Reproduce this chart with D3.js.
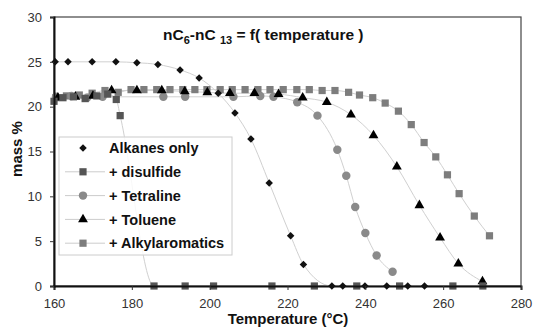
<!DOCTYPE html>
<html>
<head>
<meta charset="utf-8">
<script src="https://cdn.jsdelivr.net/npm/d3@7/dist/d3.min.js"></script>
<style>
  body { margin: 0; background: #fff; }
  svg { display: block; font-family: Arial, "Liberation Sans", sans-serif; }
</style>
</head>
<body>
<div id="chart"></div>
<script>
// ---- data (temperature °C, mass %) ----
const alkanesT = [160.3, 163.6, 169.8, 175.9, 181.3, 186.7, 192.4, 197.3, 202.2, 206.5, 210.6, 215.3, 220.8, 224.1, 231.4, 234.2, 239.9, 245.5, 250.9, 255.2];
const alkanesM = [25.0, 25.0, 25.0, 25.0, 24.9, 24.7, 24.1, 23.2, 21.5, 19.3, 16.4, 11.5, 5.6, 2.4, 0, 0, 0, 0, 0, 0];

const disulfideT = [160.0, 162.3, 165.0, 168.0, 171.0, 173.8, 176.0, 177.0, 185.7, 193.7, 201.0, 216.0, 226.9, 237.8, 248.8, 262.5, 270.2];
const disulfideM = [20.6, 21.0, 21.1, 20.9, 21.2, 21.4, 20.8, 19.0, 0, 0, 0, 0, 0, 0, 0, 0, 0];

const tetralineT = [160.5, 164.5, 168.5, 172.5, 188.1, 193.7, 206.1, 213.0, 216.4, 222.5, 227.7, 232.8, 235.1, 237.4, 240.0, 242.9, 247.0];
const tetralineM = [21.1, 21.2, 21.0, 21.1, 21.1, 21.1, 21.1, 21.2, 21.1, 20.5, 19.0, 15.2, 12.3, 8.8, 5.9, 3.4, 1.6];

const tolueneT = [161.0, 165.5, 170.0, 174.8, 181.3, 187.7, 193.6, 199.4, 205.2, 211.5, 217.7, 223.9, 230.1, 236.3, 242.1, 248.1, 253.9, 259.2, 263.9, 270.1];
const tolueneM = [21.0, 21.1, 21.2, 21.8, 21.8, 21.8, 21.7, 21.6, 21.5, 21.5, 21.4, 21.0, 20.5, 19.1, 16.8, 13.3, 9.0, 5.4, 2.5, 0.5];

const alkylT = [160.5, 163.2, 166.5, 169.8, 173.1, 176.5, 179.8, 183.1, 186.4, 189.8, 193.1, 196.2, 199.3, 202.7, 205.8, 209.1, 212.4, 215.5, 218.9, 222.4, 225.6, 228.9, 232.2, 235.7, 238.5, 241.9, 245.1, 248.5, 251.8, 255.1, 258.1, 261.1, 264.1, 268.0, 271.9];
const alkylM = [21.0, 21.2, 21.3, 21.5, 21.8, 21.6, 21.9, 21.9, 21.9, 21.9, 21.9, 21.9, 21.9, 21.9, 21.9, 21.9, 21.9, 21.9, 21.9, 21.9, 21.9, 21.8, 21.8, 21.6, 21.3, 21.0, 20.4, 19.5, 18.0, 16.0, 14.4, 12.4, 10.3, 7.8, 5.6];

const seriesNames = ["Alkanes only", "+ disulfide", "+ Tetraline", "+ Toluene", "+ Alkylaromatics"];
const xTicks = [160, 180, 200, 220, 240, 260, 280];
const yTicks = [0, 5, 10, 15, 20, 25, 30];

const W = 533, H = 335;
const plot = { left: 54, right: 521, top: 17, bottom: 286 };

let x = d3.scaleLinear().domain([160, 280]).range([plot.left, plot.right]);
let y = d3.scaleLinear().domain([0, 30]).range([plot.bottom, plot.top]);

let svg = d3.select("#chart").append("svg")
  .attr("width", W)
  .attr("height", H);

svg.append("rect").attr("width", W).attr("height", H).attr("fill", "#fff");

// frame (top/right thin)
svg.append("rect")
  .attr("x", plot.left).attr("y", plot.top)
  .attr("width", plot.right - plot.left).attr("height", plot.bottom - plot.top)
  .attr("fill", "none").attr("stroke", "#444").attr("stroke-width", 1.2);

const zip = (ts, ms) => ts.map((t, i) => ({ t: t, m: ms[i] }));

let series = [
  { name: seriesNames[0], data: zip(alkanesT, alkanesM), shape: "diamond", color: "#111", size: 28 },
  { name: seriesNames[1], data: zip(disulfideT, disulfideM), shape: "square", color: "#555", size: 52 },
  { name: seriesNames[2], data: zip(tetralineT, tetralineM), shape: "circle", color: "#8a8a8a", size: 56 },
  { name: seriesNames[3], data: zip(tolueneT, tolueneM), shape: "triangle", color: "#000", size: 42 },
  { name: seriesNames[4], data: zip(alkylT, alkylM), shape: "square", color: "#7d7d7d", size: 52 }
];

const symbolOf = (s) => {
  if (s.shape === "circle") return d3.symbol(d3.symbolCircle, s.size)();
  if (s.shape === "triangle") return d3.symbol(d3.symbolTriangle, s.size)();
  return d3.symbol(d3.symbolSquare, s.size)();
};

// light trend lines
let line = d3.line()
  .x(d => x(d.t))
  .y(d => y(d.m))
  .curve(d3.curveMonotoneX);

let gLines = svg.append("g").attr("fill", "none").attr("stroke", "#d0d0d0").attr("stroke-width", 1);
series.forEach(s => {
  gLines.append("path").attr("d", line(s.data));
});

// markers (draw order: last series at back)
let gMarks = svg.append("g");
[4, 2, 3, 1, 0].forEach(k => {
  let s = series[k];
  gMarks.append("g").selectAll("path")
    .data(s.data)
    .enter().append("path")
    .attr("d", symbolOf(s))
    .attr("transform", d => `translate(${x(d.t)},${y(d.m)})` + (s.shape === "diamond" ? " rotate(45)" : ""))
    .attr("fill", s.color);
});

// axes: thick left and bottom
let xAxis = d3.axisBottom(x).tickValues(xTicks).tickSize(4).tickPadding(6);
let yAxis = d3.axisLeft(y).tickValues(yTicks).tickSize(4).tickPadding(8);

let gx = svg.append("g").attr("transform", `translate(0,${plot.bottom})`).call(xAxis);
let gy = svg.append("g").attr("transform", `translate(${plot.left},0)`).call(yAxis);

[gx, gy].forEach(g => {
  g.select(".domain").attr("stroke", "#111").attr("stroke-width", 2);
  g.selectAll(".tick line").attr("stroke", "#333");
  g.selectAll("text").attr("fill", "#333").style("font-size", "13px")
    .style("font-family", "Arial, 'Liberation Sans', sans-serif");
});
gx.selectAll("text").attr("dy", "0.9em");

// legend
let legend = svg.append("g").attr("transform", "translate(59,137)");
legend.append("rect")
  .attr("width", 173).attr("height", 118)
  .attr("fill", "#fff").attr("fill-opacity", 0.85)
  .attr("stroke", "#ccc").attr("stroke-width", 1);

series.forEach((s, i) => {
  let row = legend.append("g").attr("transform", `translate(0,${11 + i * 23.8})`);
  if (i > 0) {
    row.append("line").attr("x1", 6).attr("x2", 46).attr("y1", 0).attr("y2", 0)
      .attr("stroke", "#ccc").attr("stroke-width", 1);
  }
  row.append("path")
    .attr("d", symbolOf(s))
    .attr("transform", "translate(24,0)" + (s.shape === "diamond" ? " rotate(45)" : ""))
    .attr("fill", s.color);
  row.append("text")
    .attr("x", 50).attr("y", 0).attr("dy", "0.36em")
    .style("font-size", "14.5px").style("font-weight", "bold").attr("fill", "#111")
    .text(s.name);
});

// title
let title = svg.append("text")
  .attr("x", 163).attr("y", 40)
  .style("font-size", "15.5px").style("font-weight", "bold").attr("fill", "#111");
title.append("tspan").text("nC");
title.append("tspan").attr("dy", 4).style("font-size", "11px").text("6");
title.append("tspan").attr("dy", -4).text("-nC ");
title.append("tspan").attr("dy", 4).style("font-size", "11px").text("13");
title.append("tspan").attr("dy", -4).text(" = f( temperature )");

// axis titles
svg.append("text")
  .attr("x", 288).attr("y", 324)
  .attr("text-anchor", "middle")
  .style("font-size", "15px").style("font-weight", "bold").attr("fill", "#111")
  .text("Temperature (°C)");

svg.append("text")
  .attr("transform", "translate(22,149) rotate(-90)")
  .attr("text-anchor", "middle")
  .style("font-size", "15px").style("font-weight", "bold").attr("fill", "#111")
  .text("mass  %");
</script>
</body>
</html>
